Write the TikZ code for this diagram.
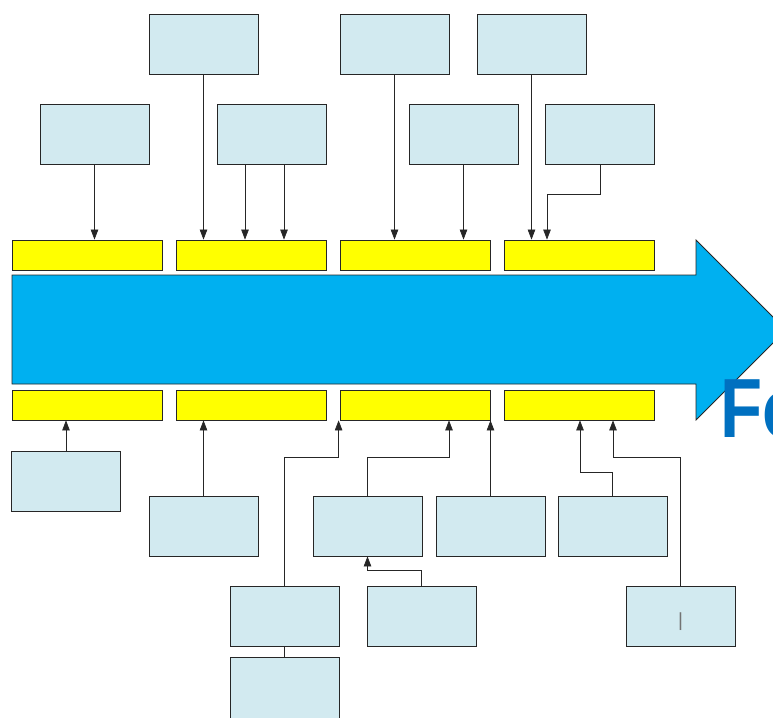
\documentclass[tikz,border=0pt]{standalone}
\usepackage{fontspec}
\setmainfont{Liberation Sans}
\newfontfamily\titlefont[FakeStretch=0.82]{Liberation Sans}
\usetikzlibrary{arrows.meta}
\definecolor{boxfill}{RGB}{210,234,240}
\definecolor{barfill}{RGB}{255,255,0}
\definecolor{flowblue}{RGB}{0,176,240}
\definecolor{titleblue}{RGB}{0,112,192}
\tikzset{
  card/.style={draw=black!85, line width=0.8pt, fill=boxfill, inner sep=0pt,
    minimum width=109pt, minimum height=60pt},
  bar/.style={draw=black!85, line width=0.8pt, fill=barfill, inner sep=0pt,
    minimum width=150pt, minimum height=30pt},
  link/.style={draw=black!85, line width=0.7pt},
  feed/.style={link, -{Triangle[length=10pt,width=7.5pt]}}
}
\begin{document}
\begin{tikzpicture}[x=1pt,y=-1pt]
\useasboundingbox (0,0) rectangle (773,717);
\clip (0,0) rectangle (773,717);

% main flow arrow
\draw[fill=flowblue, draw=black!85, line width=0.8pt]
  (12,275) -- (696,275) -- (696,240) -- (786,330) -- (696,420)
  -- (696,384) -- (12,384) -- cycle;
\node[anchor=base west, inner sep=0pt, text=titleblue,
  font=\titlefont\bfseries\fontsize{84}{84}\selectfont] (title) at (720,437) {Fo};

% yellow bars above and below the arrow
\node[bar] (t1) at (87,255) {};
\node[bar] (t2) at (251,255) {};
\node[bar] (t3) at (415,255) {};
\node[bar] (t4) at (579,255) {};
\node[bar] (b1) at (87,405) {};
\node[bar] (b2) at (251,405) {};
\node[bar] (b3) at (415,405) {};
\node[bar] (b4) at (579,405) {};

% upper cards
\node[card] (A) at (203.5,44) {};
\node[card] (B) at (394.5,44) {};
\node[card] (C) at (531.5,44) {};
\node[card] (D) at (94.5,134) {};
\node[card] (E) at (271.5,134) {};
\node[card] (F) at (463.5,134) {};
\node[card] (G) at (600,134) {};

% lower cards
\node[card] (H) at (66,481) {};
\node[card] (I) at (203.5,526) {};
\node[card] (J) at (367.5,526) {};
\node[card] (K) at (490.5,526) {};
\node[card] (L) at (612.5,526) {};
\node[card] (M) at (284.5,616) {};
\node[card] (N) at (421.5,616) {};
\node[card, minimum height=70pt] (O) at (284.5,692) {};
\node[card] (P) at (680.5,616) {};
\node[text=black!55, inner sep=0pt, font=\fontsize{19}{19}\selectfont] (pmark)
  at (680.5,622) {|};

% connectors into the upper bars
\path[feed] (D.south) -- (D.south |- t1.north);
\path[feed] (A.south) -- (A.south |- t2.north);
\path[feed] ([xshift=-26.5pt]E.south) -- ([xshift=-26.5pt]E.south |- t2.north);
\path[feed] ([xshift=12.5pt]E.south) -- ([xshift=12.5pt]E.south |- t2.north);
\path[feed] (B.south) -- (B.south |- t3.north);
\path[feed] (F.south) -- (F.south |- t3.north);
\path[feed] (C.south) -- (C.south |- t4.north);
\path[feed] (G.south) -- ++(0,30) -| ([xshift=-32pt]t4.north);

% connectors into the lower bars
\path[feed] (H.north) -- (H.north |- b1.south);
\path[feed] (I.north) -- (I.north |- b2.south);
\path[feed] (M.north) -- ++(0,-128) -| ([xshift=-1pt]b3.south west);
\path[feed] (J.north) -- ++(0,-38) -| ([xshift=34pt]b3.south);
\path[feed] (K.north) -- (K.north |- b3.south);
\path[feed] (L.north) -- ++(0,-23) -| ([xshift=1pt]b4.south);
\path[feed] (P.north) -- ++(0,-128) -| ([xshift=34pt]b4.south);
\path[feed] (N.north) -- ++(0,-15) -| (J.south);
\path[link] (M.south) -- (O.north);
\end{tikzpicture}
\end{document}
